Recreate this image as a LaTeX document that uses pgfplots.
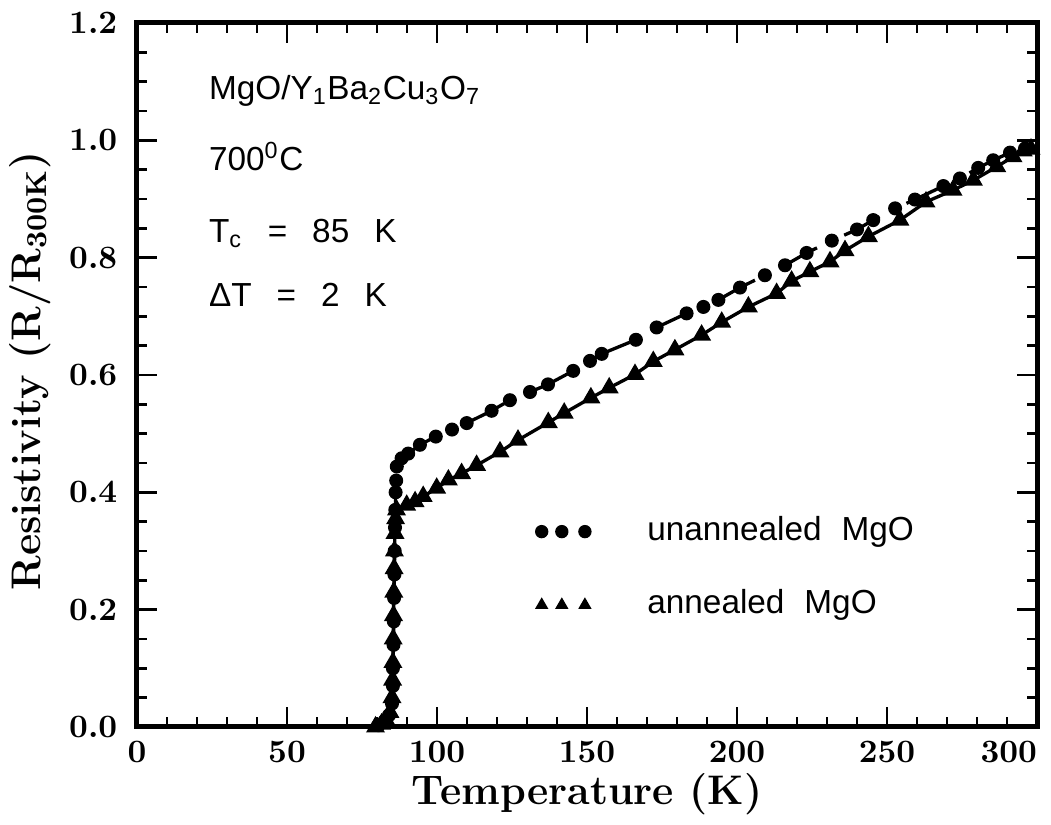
\documentclass[border=0pt]{standalone}
\usepackage{fontspec}
\usepackage{pgfplots}
\pgfplotsset{compat=1.18}
\newfontfamily\annfont{Liberation Sans}

\begin{document}
\begin{tikzpicture}
\begin{axis}[
  scale only axis,
  width=270pt, height=211.2pt,
  xmin=0, xmax=300, ymin=0, ymax=1.2,
  xtick={0,50,100,150,200,250,300},
  xticklabels={0,50,100,150,200,250,\llap{300}},
  ytick={0,0.2,0.4,0.6,0.8,1.0,1.2},
  yticklabels={0.0,0.2,0.4,0.6,0.8,1.0,1.2},
  minor x tick num=4,
  minor y tick num=3,
  tick align=inside,
  major tick length=6pt,
  minor tick length=3pt,
  every tick/.style={black, line width=0.8pt},
  axis line style={line width=1.5pt},
  ticklabel style={font=\bfseries\fontsize{9.8}{11}\selectfont},
  xticklabel style={anchor=base, yshift=-10.8pt},
  yticklabel style={anchor=east, xshift=-2.4pt},
  xlabel={Temperature (K)},
  ylabel={Resistivity (R/R\textsubscript{300K})},
  label style={font=\bfseries\fontsize{12.4}{14}\selectfont},
  xlabel style={at={(axis description cs:0.5,0)}, anchor=base, yshift=-23.4pt},
  ylabel style={at={(axis description cs:-0.119,0.506)}, anchor=center},
]
\coordinate (sw) at (rel axis cs:0,0);
\coordinate (ne) at (rel axis cs:1,1);

% annealed MgO: solid line, filled triangles
\addplot[black, line width=1pt, mark=triangle*, mark size=2.3pt,
  mark options={solid, fill=black}] coordinates {
  (79.5,0.0) (81.5,0.005) (83,0.012) (84.3,0.025) (85,0.05) (85.2,0.08)
  (85.3,0.11) (85.4,0.15) (85.5,0.19) (85.6,0.23) (85.7,0.27) (85.8,0.30)
  (86,0.33) (86.2,0.355) (86.5,0.37) (89.9,0.378) (92.7,0.384) (95.4,0.393)
  (99.9,0.407) (103.8,0.421) (108.2,0.432) (113.2,0.446) (121,0.469)
  (127,0.489) (137.1,0.519) (142.4,0.535) (151.3,0.561) (157.4,0.578)
  (166,0.601) (172.1,0.623) (179.3,0.643) (188.2,0.668) (194.9,0.690)
  (203.8,0.716) (213.2,0.739) (218.2,0.760) (224.3,0.776) (231,0.793)
  (236,0.812) (243.8,0.836) (254.3,0.864) (263,0.895) (272,0.915)
  (278.8,0.932) (286.6,0.955) (292,0.972) (295.4,0.982) (298,0.985)
};

% unannealed MgO: dashed connecting line, then filled circles on top
\addplot[black, line width=1pt, dash pattern=on 12pt off 9pt] coordinates {
  (80.5,0.003) (82.5,0.01) (84,0.02) (85,0.04) (85.3,0.07) (85.3,0.10)
  (85.5,0.14) (85.6,0.18) (85.7,0.22) (85.8,0.26) (85.9,0.30) (86,0.34)
  (86.1,0.37) (86.2,0.40) (86.4,0.42) (86.6,0.444) (88.2,0.458) (90.4,0.466)
  (94.3,0.481) (99.6,0.495) (105,0.507) (109.9,0.518) (118.2,0.539)
  (124.3,0.557) (131,0.571) (137,0.584) (145.4,0.607) (151,0.624)
  (154.9,0.636) (166.3,0.660) (173.2,0.681) (183.2,0.705) (188.8,0.716)
  (193.8,0.728) (201,0.749) (209.3,0.770) (216,0.787) (223.2,0.808)
  (231.6,0.829) (240,0.848) (245.4,0.864) (252.7,0.884) (259.3,0.899)
  (268.8,0.922) (274.3,0.935) (280.4,0.953) (285.4,0.966) (291,0.979)
  (296,0.986)
};
\addplot[only marks, mark=*, mark size=1.9pt, fill=black] coordinates {
  (80.5,0.003) (82.5,0.01) (84,0.02) (85,0.04) (85.3,0.07) (85.3,0.10)
  (85.5,0.14) (85.6,0.18) (85.7,0.22) (85.8,0.26) (85.9,0.30) (86,0.34)
  (86.1,0.37) (86.2,0.40) (86.4,0.42) (86.6,0.444) (88.2,0.458) (90.4,0.466)
  (94.3,0.481) (99.6,0.495) (105,0.507) (109.9,0.518) (118.2,0.539)
  (124.3,0.557) (131,0.571) (137,0.584) (145.4,0.607) (151,0.624)
  (154.9,0.636) (166.3,0.660) (173.2,0.681) (183.2,0.705) (188.8,0.716)
  (193.8,0.728) (201,0.749) (209.3,0.770) (216,0.787) (223.2,0.808)
  (231.6,0.829) (240,0.848) (245.4,0.864) (252.7,0.884) (259.3,0.899)
  (268.8,0.922) (274.3,0.935) (280.4,0.953) (285.4,0.966) (291,0.979)
  (296,0.986)
};

% legend symbols
\addplot[only marks, mark=*, mark size=1.8pt, fill=black]
  coordinates {(134.9,0.333) (141.6,0.333) (149.3,0.333)};
\addplot[only marks, mark=triangle*, mark size=1.9pt, fill=black]
  coordinates {(134.9,0.208) (141.6,0.208) (149.3,0.208)};

\begin{scope}[every node/.style={inner sep=0pt, font=\annfont\fontsize{10}{12}\selectfont}]
\node[anchor=west] at (axis cs:169.9,0.333) {unannealed\hspace{0.6em}MgO};
\node[anchor=west] at (axis cs:169.9,0.208) {annealed\hspace{0.6em}MgO};
\node[anchor=base west] at (axis cs:23.8,1.069)
  {MgO/Y\textsubscript{1}Ba\textsubscript{2}Cu\textsubscript{3}O\textsubscript{7}};
\node[anchor=base west] at (axis cs:23.8,0.949) {700\textsuperscript{0}C};
\node[anchor=base west] at (axis cs:23.8,0.825)
  {T\textsubscript{c}\hspace{0.75em}=\hspace{0.75em}85\hspace{0.75em}K};
\node[anchor=base west] at (axis cs:23.8,0.717)
  {ΔT\hspace{0.75em}=\hspace{0.75em}2\hspace{0.75em}K};
\end{scope}
\end{axis}
\pgfresetboundingbox
\path[use as bounding box] ([shift={(-41.1pt,-29.4pt)}]sw) rectangle ([shift={(4.2pt,6.9pt)}]ne);
\end{tikzpicture}
\end{document}
